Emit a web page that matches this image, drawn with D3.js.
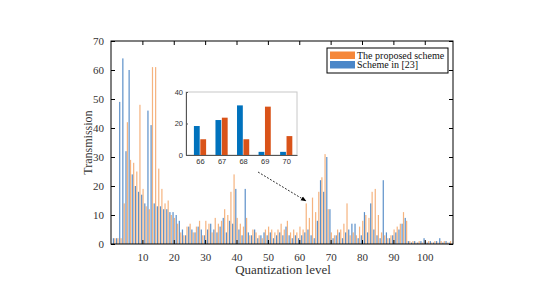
<!DOCTYPE html>
<html><head><meta charset="utf-8">
<script src="https://cdn.jsdelivr.net/npm/d3@7"></script>
<style>body{margin:0;background:#fff}svg{display:block}</style>
</head><body>
<script>
// ---- data ----
const levels = d3.range(1, 109);
const blueVals = [2,2,49,64,32,60,24,20,18,17,14,46,41,14,13,13,12,12,11,11,
  10,8,5,3,6,5,4,6,5,3,5,7,5,4,6,9,4,8,7,19,
  5,3,19,4,3,5,2,3,4,3,4,2,3,4,3,6,3,2,3,2,
  3,4,5,3,2,8,22,18,30,12,2,3,4,2,4,5,7,7,2,3,
  11,4,14,5,3,2,22,4,2,3,4,5,7,9,1,0.5,1,0.5,1,2,
  0.5,1,0.5,1,2,0.5,1,0.5];
const orangeVals = [2,2,2,14,42,29,28,25,48,19,13,12,61,61,26,19,14,15,10,9,
  7,4,3,6,7,4,6,8,3,8,7,4,9,7,8,12,10,18,24,9,
  7,6,9,3,5,4,3,2,5,6,5,4,5,7,5,8,4,5,4,6,
  5,14,9,16,11,18,23,31,12,4,3,5,5,7,14,3,4,3,6,8,
  10,9,18,19,10,4,3,2,3,5,6,7,11,8,1,1,0.5,1,0.5,1,
  1,0.5,1,0.5,1,1,0.5,1];
const xTicks = [10,20,30,40,50,60,70,80,90,100];
const yTicks = [0,10,20,30,40,50,60,70];
const insetLevels = [66,67,68,69,70];
const insetBlue = [18.4,22.2,31.5,2,2];
const insetOrange = [10,23.7,10,30.7,12];
const insetYTicks = [0,20,40];
const legendLabels = ["The proposed scheme","Scheme in [23]"];

const W = 550, H = 300;
const svg = d3.select("body").append("svg").attr("width", W).attr("height", H);
const serif = "'Liberation Serif','Times New Roman',serif";
const txt = "#333";

// ---- main axes ----
const m = {l:111, r:453, t:41, b:244};
const x = d3.scaleLinear().domain([0,109]).range([m.l, m.r]);
const y = d3.scaleLinear().domain([0,70]).range([m.b, m.t]);
const bw = 1.2;
const g = svg.append("g");
g.selectAll("rect.b").data(levels).join("rect").attr("class","b")
  .attr("x", (d)=>x(d)-bw-0.1).attr("width", bw)
  .attr("y", (d,i)=>y(blueVals[i])).attr("height", (d,i)=>y(0)-y(blueVals[i]))
  .attr("fill","#3f7cc0").attr("opacity",0.85);
g.selectAll("rect.o").data(levels).join("rect").attr("class","o")
  .attr("x", (d)=>x(d)+0.1).attr("width", bw)
  .attr("y", (d,i)=>y(orangeVals[i])).attr("height", (d,i)=>y(0)-y(orangeVals[i]))
  .attr("fill","#f08a3a").attr("opacity",0.65);

// frame
svg.append("rect").attr("x",m.l).attr("y",m.t).attr("width",m.r-m.l).attr("height",m.b-m.t)
  .attr("fill","none").attr("stroke","#000").attr("stroke-width",1);

const xb = svg.append("g").attr("transform",`translate(0,${m.b})`)
  .call(d3.axisBottom(x).tickValues(xTicks).tickSize(-4).tickPadding(9).tickFormat(d3.format("d")));
const xt = svg.append("g").attr("transform",`translate(0,${m.t})`)
  .call(d3.axisTop(x).tickValues(xTicks).tickSize(-4).tickFormat(""));
const yl = svg.append("g").attr("transform",`translate(${m.l},0)`)
  .call(d3.axisLeft(y).tickValues(yTicks).tickSize(-4).tickPadding(7));
const yr = svg.append("g").attr("transform",`translate(${m.r},0)`)
  .call(d3.axisRight(y).tickValues(yTicks).tickSize(-4).tickFormat(""));
[xb,xt,yl,yr].forEach(a=>{
  a.select(".domain").remove();
  a.selectAll("line").attr("stroke","#000");
  a.selectAll("text").attr("font-family",serif).attr("font-size",11).attr("fill",txt);
});

svg.append("text").attr("x",(m.l+m.r)/2+1).attr("y",274).attr("text-anchor","middle")
  .attr("font-family",serif).attr("font-size",13).attr("fill",txt).text("Quantization level");
svg.append("text").attr("transform",`translate(92,${(m.t+m.b)/2}) rotate(-90)`).attr("text-anchor","middle")
  .attr("font-family",serif).attr("font-size",12).attr("fill",txt).text("Transmission");

// ---- legend ----
const lg = svg.append("g");
lg.append("rect").attr("x",327).attr("y",48).attr("width",121).attr("height",25)
  .attr("fill","#fff").attr("stroke","#000").attr("stroke-width",1);
const lcol = ["#f5873a","#4a86c8"];
legendLabels.forEach((t,i)=>{
  lg.append("rect").attr("x",330).attr("y",51.5+i*9.5).attr("width",25).attr("height",7.5).attr("fill",lcol[i]);
  lg.append("text").attr("x",357).attr("y",58.5+i*9.5).attr("font-family",serif).attr("font-size",10)
    .attr("fill","#111").text(t);
});

// ---- inset ----
const im = {l:186, r:297, t:92, b:155};
const ix = d3.scaleLinear().domain([65.35,70.5]).range([im.l, im.r]);
const iy = d3.scaleLinear().domain([0,40]).range([im.b, im.t]);
const ig = svg.append("g");
ig.append("rect").attr("x",im.l).attr("y",im.t).attr("width",im.r-im.l).attr("height",im.b-im.t)
  .attr("fill","#fff").attr("stroke","#c8c8c8").attr("stroke-width",1);
const ibw = 5.8;
ig.selectAll("rect.ib").data(insetLevels).join("rect")
  .attr("x",d=>ix(d)-ibw-0.3).attr("width",ibw)
  .attr("y",(d,i)=>iy(insetBlue[i])).attr("height",(d,i)=>iy(0)-iy(insetBlue[i]))
  .attr("fill","#0072bd");
ig.selectAll("rect.io").data(insetLevels).join("rect")
  .attr("x",d=>ix(d)+0.3).attr("width",ibw)
  .attr("y",(d,i)=>iy(insetOrange[i])).attr("height",(d,i)=>iy(0)-iy(insetOrange[i]))
  .attr("fill","#d95319");
const ixa = ig.append("g").attr("transform",`translate(0,${im.b})`)
  .call(d3.axisBottom(ix).tickValues(insetLevels).tickSize(0).tickPadding(4).tickFormat(d3.format("d")));
const iya = ig.append("g").attr("transform",`translate(${im.l},0)`)
  .call(d3.axisLeft(iy).tickValues(insetYTicks).tickSize(-2).tickPadding(3).tickFormat(d3.format("d")));
[ixa,iya].forEach(a=>{
  a.select(".domain").attr("stroke","#555");
  a.selectAll("line").attr("stroke","#555");
  a.selectAll("text").attr("font-family","'Liberation Sans',Arial,sans-serif").attr("font-size",7.5).attr("fill","#333");
});

// ---- arrow ----
const defs = svg.append("defs");
defs.append("marker").attr("id","ah").attr("viewBox","0 0 10 10").attr("refX",9).attr("refY",5)
  .attr("markerWidth",7).attr("markerHeight",7).attr("orient","auto")
  .append("path").attr("d","M0,1 L10,5 L0,9 z").attr("fill","#000");
svg.append("line").attr("x1",258).attr("y1",172).attr("x2",306).attr("y2",201)
  .attr("stroke","#000").attr("stroke-width",0.8).attr("stroke-dasharray","2,1.5")
  .attr("marker-end","url(#ah)");
</script>
</body></html>
